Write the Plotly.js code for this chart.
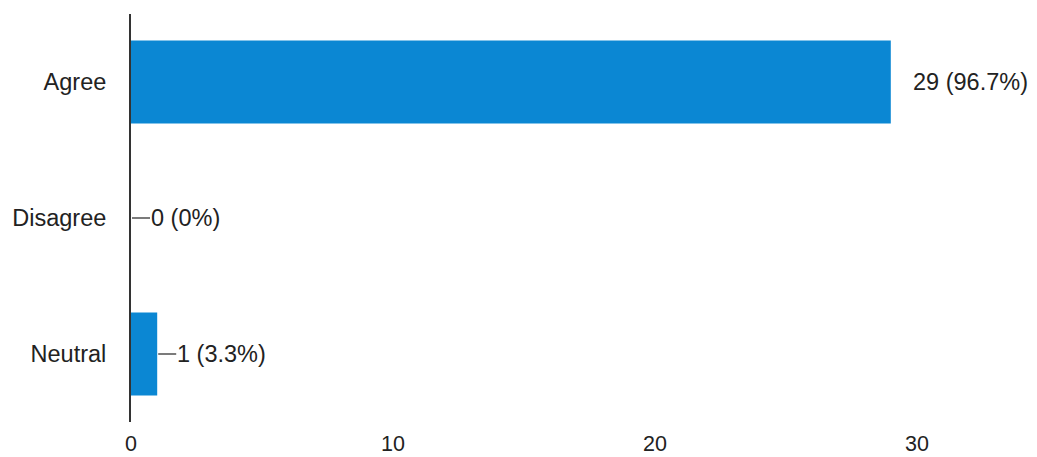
<!DOCTYPE html>
<html><head><meta charset="utf-8">
<script src="https://cdn.plot.ly/plotly-3.0.1.min.js"></script>
<style>html,body{margin:0;padding:0;background:#fff}</style>
</head><body>
<div id="chart" style="width:1037px;height:457px"></div>
<script>
const categories = ["Agree", "Disagree", "Neutral"];
const counts = [29, 0, 1];
const percents = ["96.7%", "0%", "3.3%"];
const xTicks = [0, 10, 20, 30];

const labels = counts.map((c, i) => c + " (" + percents[i] + ")");
const barColor = "#0b87d3";
const family = "Liberation Sans, Arial, sans-serif";
const labelFont = {family: family, size: 23.5, color: "#222"};
const tickFont = {family: family, size: 21.5, color: "#222"};

const annotations = categories.map((cat, i) => ({
  x: counts[i], y: cat, xref: "x", yref: "y",
  text: labels[i], showarrow: false, xanchor: "left", yanchor: "middle",
  xshift: counts[i] < 5 ? 18 : 20, font: labelFont
}));
const shapes = [];
categories.forEach((cat, i) => {
  if (counts[i] < 5) {
    shapes.push({type: "line", xref: "x", yref: "y",
      y0: cat, y1: cat,
      xsizemode: "pixel", xanchor: counts[i], x0: 1, x1: 19,
      line: {color: "#333", width: 1.3}});
  }
});

Plotly.newPlot("chart", [{
  type: "bar", orientation: "h",
  x: counts, y: categories,
  marker: {color: barColor}, width: 0.61,
  hoverinfo: "none"
}], {
  width: 1037, height: 457,
  margin: {l: 131, r: 0, t: 14, b: 35},
  paper_bgcolor: "#fff", plot_bgcolor: "#fff",
  showlegend: false,
  font: labelFont,
  xaxis: {range: [0, 34.58], tickvals: xTicks, showgrid: false, zeroline: false,
          showline: false, ticks: "", ticklabelstandoff: 6, tickfont: tickFont, fixedrange: true},
  yaxis: {autorange: false, range: [2.5, -0.5], type: "category", showgrid: false, zeroline: false,
          showline: true, linecolor: "#333", linewidth: 2, ticks: "",
          ticklabelstandoff: 18, tickfont: labelFont, fixedrange: true},
  annotations: annotations,
  shapes: shapes
}, {displayModeBar: false, staticPlot: true});
</script>
</body></html>
